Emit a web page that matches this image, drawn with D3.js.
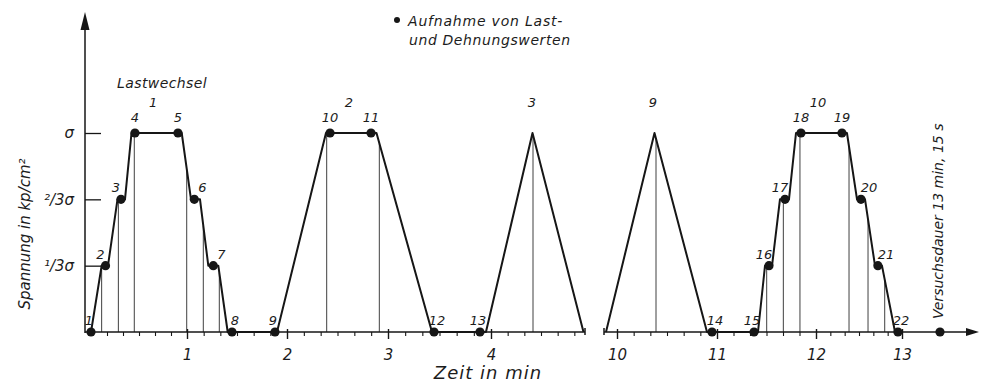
<!DOCTYPE html>
<html>
<head>
<meta charset="utf-8">
<script src="https://cdn.jsdelivr.net/npm/d3@7"></script>
<style>
  body { margin: 0; background: #ffffff; }
  text { font-family: "DejaVu Sans", sans-serif; font-style: italic; fill: #1c1c1c; }
</style>
</head>
<body>
<svg id="chart" width="981" height="384"></svg>
<script>
// ---- data ---------------------------------------------------------------
// stress levels on the y axis, as a fraction of σ
const levelValues = [1 / 3, 2 / 3, 1];
const levelTickLabels = ["¹/3σ", "²/3σ", "σ"];

// time axis (minutes); the axis is broken between 5 and 10 min
const ticksA = [1, 2, 3, 4];
const ticksB = [10, 11, 12, 13];

// load history [time in min, stress / σ] before and after the break
const loadPathA = [
  [0, 0], [0.111, 1 / 3], [0.177, 1 / 3], [0.276, 2 / 3], [0.354, 2 / 3], [0.422, 1],
  [0.945, 1], [1.04, 2 / 3], [1.13, 2 / 3], [1.213, 1 / 3], [1.313, 1 / 3], [1.407, 0],
  [1.90, 0], [2.386, 1], [2.886, 1], [3.427, 0],
  [3.951, 0], [4.415, 1], [4.925, 0]
];
const loadPathB = [
  [9.89, 0], [10.375, 1], [10.90, 0],
  [11.414, 0], [11.485, 1 / 3], [11.556, 1 / 3], [11.636, 2 / 3], [11.727, 2 / 3], [11.798, 1],
  [12.36, 1], [12.477, 2 / 3], [12.57, 2 / 3], [12.686, 1 / 3], [12.767, 1 / 3], [12.919, 0]
];

// recorded load / strain readings
const recordNo    = [1, 2, 3, 4, 5, 6, 7, 8, 9, 10, 11, 12, 13, 14, 15, 16, 17, 18, 19, 20, 21, 22];
const recordTime  = [0, 0.151, 0.3125, 0.458, 0.906, 1.073, 1.263, 1.45, 1.88, 2.426, 2.832, 3.447, 3.893,
                     10.95, 11.374, 11.525, 11.687, 11.848, 12.302, 12.523, 12.72, 12.953];
const recordLevel = [0, 1 / 3, 2 / 3, 1, 1, 2 / 3, 1 / 3, 0, 0, 1, 1, 0, 0,
                     0, 0, 1 / 3, 2 / 3, 1, 1, 2 / 3, 1 / 3, 0];
const recordPhase = ["up", "up", "up", "top", "top", "down", "down", "down", "up", "top", "top", "down", "up",
                     "down", "up", "up", "up", "top", "top", "down", "down", "down"];

// time marks dropped from the load line onto the time axis
const guideTimes = [0.111, 0.285, 0.451, 0.997, 1.163, 1.323, 2.393, 2.914, 4.42,
                    10.39, 11.502, 11.67, 11.838, 12.384, 12.605, 12.799];

// load cycle numbers
const cycleNo   = [1, 2, 3, 9, 10];
const cycleTime = [0.646, 2.614, 4.41, 10.36, 12.023];

// end of test: 13 min 15 s
const testEnd = 13.25;

// ---- scales -------------------------------------------------------------
const svg = d3.select("#chart");
const y = d3.scaleLinear().domain([0, 1]).range([332, 133]);
const xA = d3.scaleLinear().domain([0, 1, 2, 3, 4, 5]).range([91, 187, 287, 388, 491, 591]);
const xB = d3.scaleLinear().domain([9.8, 10, 11, 12, 13, 13.25, 13.6]).range([597, 617, 717, 816, 902, 940, 975]);
const xOf = t => (t < 7 ? xA(t) : xB(t));
const pathOf = t => (t < 7 ? loadPathA : loadPathB);

const ink = "#161616";
const yAxisX = xA(0) - 6;
const endA = 4.94, startB = 9.87, arrowB = 13.64;

function levelAt(path, t) {
  for (let i = 1; i < path.length; i++) {
    const [t0, v0] = path[i - 1], [t1, v1] = path[i];
    if (t >= t0 && t <= t1) return t1 === t0 ? Math.max(v0, v1) : v0 + (v1 - v0) * (t - t0) / (t1 - t0);
  }
  return 0;
}

// ---- guides -------------------------------------------------------------
svg.append("g").selectAll("line").data(guideTimes).join("line")
  .attr("x1", d => xOf(d)).attr("x2", d => xOf(d))
  .attr("y1", d => y(levelAt(pathOf(d), d))).attr("y2", y(0))
  .attr("stroke", "#2a2a2a").attr("stroke-width", 0.9);

// ---- time axis (two pieces) --------------------------------------------
const baseY = y(0);
const minorA = d3.range(1, 30).map(k => k / 6).filter(t => t <= endA && Math.abs(t - Math.round(t)) > 1e-6);
const minorB = d3.range(0, 19).map(k => 10 + k / 6).filter(t => Math.abs(t - Math.round(t)) > 1e-6);

function timeAxis(scale, majors, minors) {
  const gMinor = svg.append("g").attr("transform", `translate(0,${baseY})`)
    .call(d3.axisBottom(scale).tickValues(minors).tickSize(4).tickFormat(""));
  gMinor.select(".domain").remove();
  gMinor.selectAll(".tick line").attr("stroke", ink).attr("stroke-width", 1.1);
  const gMajor = svg.append("g").attr("transform", `translate(0,${baseY})`)
    .call(d3.axisBottom(scale).tickValues(majors).tickSize(7).tickPadding(10).tickFormat(d3.format("d")));
  gMajor.select(".domain").remove();
  gMajor.selectAll(".tick line").attr("stroke", ink).attr("stroke-width", 1.4).attr("y1", -3);
  gMajor.selectAll(".tick text").attr("font-size", 15).attr("font-family", "DejaVu Sans")
    .attr("font-style", "italic").attr("fill", "#1c1c1c");
}
timeAxis(xA, ticksA, minorA);
timeAxis(xB, ticksB, minorB);

const axisLines = svg.append("g").attr("stroke", ink).attr("stroke-width", 1.5).attr("fill", "none");
axisLines.append("line").attr("x1", yAxisX).attr("x2", xA(endA)).attr("y1", baseY).attr("y2", baseY);
axisLines.append("line").attr("x1", xB(startB)).attr("x2", xB(arrowB) - 10).attr("y1", baseY).attr("y2", baseY);
// break marks at the ends of both pieces
[xA(endA), xB(startB)].forEach(x =>
  axisLines.append("line").attr("x1", x).attr("x2", x).attr("y1", baseY - 4).attr("y2", baseY + 3));
svg.append("path")
  .attr("d", `M${xB(arrowB)},${baseY} L${xB(arrowB) - 13},${baseY - 4} L${xB(arrowB) - 13},${baseY + 4} Z`)
  .attr("fill", ink);

// ---- stress axis --------------------------------------------------------
const gy = svg.append("g").attr("transform", `translate(${yAxisX},0)`)
  .call(d3.axisLeft(y).tickValues(levelValues).tickSizeInner(-16).tickSizeOuter(0).tickPadding(11)
    .tickFormat((d, i) => levelTickLabels[i]));
gy.select(".domain").remove();
gy.selectAll(".tick line").attr("stroke", ink).attr("stroke-width", 1.3);
gy.selectAll(".tick text").attr("font-size", 15).attr("font-family", "DejaVu Sans")
  .attr("font-style", "italic").attr("fill", "#1c1c1c");

axisLines.append("line").attr("x1", yAxisX).attr("x2", yAxisX).attr("y1", baseY + 1).attr("y2", 28);
svg.append("path")
  .attr("d", `M${yAxisX},12 L${yAxisX - 4.5},30 L${yAxisX + 4.5},30 Z`)
  .attr("fill", ink);

// ---- load history -------------------------------------------------------
const line = d3.line().x(d => xOf(d[0])).y(d => y(d[1]));
[loadPathA, loadPathB].forEach(p =>
  svg.append("path").attr("d", line(p)).attr("fill", "none")
    .attr("stroke", ink).attr("stroke-width", 2).attr("stroke-linejoin", "round"));

// ---- readings -----------------------------------------------------------
const records = recordNo.map((n, i) => ({ n, t: recordTime[i], v: recordLevel[i], phase: recordPhase[i] }));
records.push({ n: null, t: testEnd, v: 0, phase: "end" });

svg.append("g").selectAll("circle").data(records).join("circle")
  .attr("cx", d => xOf(d.t)).attr("cy", d => y(d.v)).attr("r", 4.6).attr("fill", ink);

const labelDx = d => d.phase === "top" ? 0 : d.phase === "up" ? (d.v === 0 ? -2 : -5) : (d.v === 0 ? 3 : 8);
const labelDy = d => d.phase === "top" ? -11 : -7;
svg.append("g").selectAll("text").data(records.filter(d => d.n !== null)).join("text")
  .attr("x", d => xOf(d.t) + labelDx(d)).attr("y", d => y(d.v) + labelDy(d))
  .attr("text-anchor", "middle").attr("font-size", 13).text(d => d.n);

// cycle numbers
svg.append("g").selectAll("text").data(cycleNo).join("text")
  .attr("x", (d, i) => xOf(cycleTime[i])).attr("y", y(1) - 26)
  .attr("text-anchor", "middle").attr("font-size", 13).text(d => d);

svg.append("text").attr("x", xOf(cycleTime[0]) + 9).attr("y", 88)
  .attr("text-anchor", "middle").attr("font-size", 14).attr("letter-spacing", 0.4).text("Lastwechsel");

// ---- titles and notes ---------------------------------------------------
svg.append("text").attr("x", 488).attr("y", 379).attr("text-anchor", "middle")
  .attr("font-size", 18).attr("letter-spacing", 1).text("Zeit in min");

svg.append("text").attr("transform", "translate(30,234) rotate(-90)").attr("text-anchor", "middle")
  .attr("font-size", 15).text("Spannung in kp/cm²");

svg.append("text").attr("transform", `translate(${xOf(testEnd) + 3},${baseY - 13}) rotate(-90)`)
  .attr("text-anchor", "start").attr("font-size", 14).text("Versuchsdauer 13 min, 15 s");

// legend
svg.append("circle").attr("cx", 397).attr("cy", 20).attr("r", 3).attr("fill", ink);
svg.append("text").attr("x", 408).attr("y", 26).attr("font-size", 14).attr("letter-spacing", 0.8)
  .text("Aufnahme von Last-");
svg.append("text").attr("x", 409).attr("y", 45).attr("font-size", 14).attr("letter-spacing", 0.6)
  .text("und Dehnungswerten");
</script>
</body>
</html>
